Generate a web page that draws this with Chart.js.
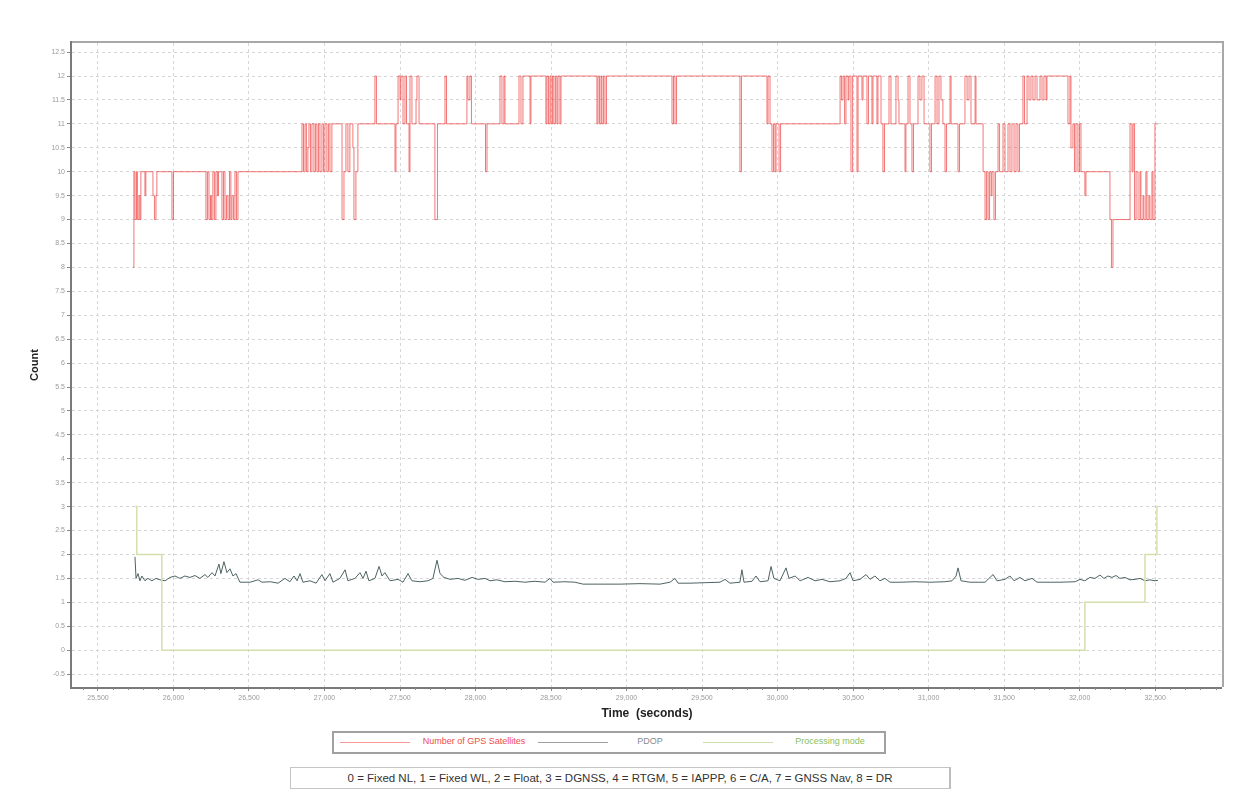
<!DOCTYPE html>
<html>
<head>
<meta charset="utf-8">
<title>GPS Satellites, PDOP and Processing Mode</title>
<script src="https://cdn.jsdelivr.net/npm/chart.js@4.4.1/dist/chart.umd.min.js"></script>
<style>
  html, body { margin: 0; padding: 0; background: #ffffff; }
  #wrap { position: relative; width: 1255px; height: 791px; font-family: "Liberation Sans", Arial, sans-serif; }
  #chart { position: absolute; left: 0; top: 0; }
  #legend { position: absolute; left: 332px; top: 731px; width: 550px; height: 19px; border: 2px solid #a0a0a0; background: #fff; }
  #legend .sw { position: absolute; top: 9px; width: 70px; height: 0; border-top: 1.5px solid; }
  #legend .lb { position: absolute; top: 3px; font-size: 9px; transform: translateX(-50%); white-space: nowrap; }
  #note { position: absolute; left: 290px; top: 767px; width: 658px; height: 20px; border: 1px solid #c4c4c4; border-right: 2px solid #bdbdbd;
          font-size: 11.5px; color: #333; line-height: 20px; text-align: center; white-space: nowrap; background: #fff; }
</style>
</head>
<body>
<div id="wrap">
  <canvas id="chart" width="1255" height="791"></canvas>
  <div id="legend"></div>
  <div id="note"></div>
</div>
<script>
// Number of GPS satellites: [time (s), count] step changes
const satTime = [
  25732, 25738, 25745, 25755, 25761, 25771, 25778, 25784, 25811, 25817,
  25864, 25874, 25884, 25890, 25990, 26000, 26215, 26225, 26235, 26245,
  26251, 26261, 26271, 26281, 26291, 26298, 26321, 26331, 26341, 26351,
  26361, 26371, 26380, 26387, 26397, 26407, 26417, 26427,
  26851, 26861, 26871, 26880, 26890, 26897, 26907, 26917, 26930, 26940,
  26950, 26960, 26970, 26983, 26993, 27003, 27016, 27026, 27036, 27049,
  27116, 27129, 27142, 27155, 27168, 27188, 27195, 27208, 27221,
  27334, 27344, 27467, 27473, 27487, 27500, 27506, 27520, 27533, 27543,
  27560, 27566, 27579, 27606, 27612, 27626, 27731, 27748, 27798, 27808,
  27943, 27950, 27963, 27973, 28066, 28076, 28162, 28175, 28188, 28195,
  28288, 28301, 28314,
  28361, 28367, 28466, 28473, 28483, 28493, 28500, 28510, 28519, 28529,
  28539, 28546, 28559, 28566, 28804, 28811, 28821, 28831, 28837, 28847,
  28857, 28867, 29301, 29311, 29321, 29331, 29751, 29761,
  29930, 29937, 29950, 29963, 29973, 29983, 29990, 30010, 30020,
  30414, 30424, 30434, 30444, 30453, 30467, 30473, 30486, 30497, 30526,
  30533, 30559, 30566, 30592, 30602, 30625, 30632, 30658, 30665, 30685,
  30698, 30708, 30738, 30751, 30784, 30798, 30804, 30844, 30850, 30864,
  30877, 30890, 30900, 30930, 30943, 30956, 30970, 31009, 31019, 31043,
  31056, 31069, 31082, 31095, 31109, 31119, 31142, 31149, 31195, 31205,
  31241, 31255, 31268, 31281, 31308, 31314, 31361, 31374, 31384, 31394,
  31404, 31414, 31420, 31433, 31443, 31460, 31470, 31493, 31506, 31526,
  31539, 31552, 31566, 31579, 31592, 31602, 31625, 31635, 31652, 31665,
  31678, 31691, 31705, 31718, 31738, 31751, 31764, 31778, 31784,
  31923, 31936, 31943, 31956, 31966, 31976, 31989, 31999, 32009, 32035, 32042,
  32201, 32211, 32221, 32334, 32347, 32354, 32364, 32374, 32387, 32400,
  32406, 32420, 32426, 32439, 32446, 32459, 32466, 32479, 32486, 32499, 32519
];
const satCount = [
  8, 10, 9, 10, 9, 9.5, 9, 10, 9.5, 10,
  9.5, 9, 9.5, 10, 9, 10, 9, 10, 9, 9.5,
  9, 10, 9, 10, 9.5, 10, 9, 10, 9, 9.5,
  9, 10, 9, 9.5, 9, 10, 9, 10,
  11, 10, 11, 10, 10.5, 11, 10, 11, 10, 11,
  10, 11, 10, 11, 10, 11, 10, 11, 10, 11,
  9, 10, 11, 10, 11, 10.5, 9, 10, 11,
  12, 11, 10, 11, 12, 11.5, 12, 11, 12, 11,
  10, 12, 11, 11.5, 12, 11, 9, 11, 12, 11,
  12, 11.5, 12, 11, 10, 11, 12, 11, 12, 11,
  12, 11, 12,
  11, 12, 11, 12, 11, 12, 11, 12, 11, 12,
  11, 12, 11, 12, 11, 12, 11, 12, 11, 12,
  11, 12, 11, 12, 11, 12, 10, 12,
  11, 12, 11, 10, 11, 10, 11, 10, 11,
  12, 11.5, 12, 11, 12, 11.5, 12, 10, 12, 10,
  12, 11.5, 12, 11, 12, 11, 12, 11, 12, 11,
  10, 11, 12, 11, 12, 11.5, 11, 10, 11, 12,
  11, 10, 11, 12, 11.5, 12, 11, 10, 11, 12,
  11, 12, 11.5, 11, 10, 11, 12, 11, 10, 11,
  12, 11.5, 12, 11, 12, 11, 10, 9, 10, 9,
  10, 9.5, 10, 9, 10, 11, 10, 11, 10, 11,
  10, 11, 10, 11, 10, 11, 12, 11, 12, 11.5,
  12, 11.5, 12, 11.5, 12, 11.5, 12, 11.5, 12,
  11, 12, 10.5, 11, 10, 11, 10, 11, 10, 9.5, 10,
  9, 8, 9, 11, 10, 11, 9, 10, 9, 10,
  9, 9.5, 9, 10, 9, 9.5, 9, 10, 9, 11, 11
];

// PDOP samples: [time (s), value]
const pdopTime = [
  25745, 25752, 25765, 25778, 25791, 25811, 25831, 25857, 25884, 25911,
  25944, 25977, 26010, 26043, 26076, 26109, 26142, 26175, 26209, 26228,
  26255, 26275, 26301, 26314, 26334, 26354, 26374, 26394, 26414, 26440,
  26507, 26560, 26586, 26640, 26692, 26738, 26771, 26798, 26818, 26838,
  26857, 26904, 26944, 26983, 27003, 27036, 27056, 27102, 27136, 27155,
  27202, 27235, 27255, 27275, 27294, 27334, 27361, 27381, 27400, 27434,
  27487, 27520, 27553, 27579, 27632, 27685, 27718, 27745, 27765, 27791,
  27831, 27884, 27930, 27977, 28016, 28063, 28096, 28142, 28195, 28261,
  28327, 28394, 28460, 28493, 28513, 28592, 28658, 28712, 28824, 28957,
  29089, 29222, 29288, 29321, 29341, 29420, 29519, 29619, 29652, 29685,
  29751, 29764, 29778, 29831, 29857, 29884, 29937, 29957, 29976, 30016,
  30056, 30076, 30116, 30149, 30202, 30248, 30294, 30347, 30414, 30453,
  30480, 30500, 30546, 30586, 30612, 30645, 30678, 30711, 30745, 30811,
  30910, 31009, 31109, 31155, 31182, 31195, 31215, 31274, 31374, 31407,
  31427, 31453, 31506, 31539, 31566, 31605, 31638, 31685, 31718, 31771,
  31870, 31970, 32003, 32035, 32068, 32102, 32135, 32161, 32188, 32214,
  32241, 32267, 32300, 32334, 32367, 32400, 32433, 32466, 32499, 32519
];
const pdopValue = [
  1.95, 1.5, 1.6, 1.45, 1.55, 1.45, 1.5, 1.45, 1.5, 1.47,
  1.45, 1.52, 1.55, 1.5, 1.55, 1.52, 1.56, 1.5, 1.58, 1.52,
  1.62, 1.55, 1.8, 1.6, 1.85, 1.62, 1.7, 1.55, 1.6, 1.42,
  1.42, 1.47, 1.42, 1.43, 1.4, 1.5, 1.43, 1.55, 1.45, 1.6,
  1.42, 1.45, 1.4, 1.58, 1.45, 1.6, 1.42, 1.5, 1.68, 1.45,
  1.5, 1.62, 1.5, 1.65, 1.45, 1.5, 1.75, 1.55, 1.62, 1.45,
  1.48, 1.42, 1.6, 1.45, 1.43, 1.45, 1.5, 1.88, 1.6, 1.52,
  1.48, 1.5, 1.46, 1.52, 1.48, 1.5, 1.45, 1.47, 1.43, 1.44,
  1.42, 1.44, 1.42, 1.5, 1.42, 1.43, 1.42, 1.38, 1.38, 1.38,
  1.39, 1.38, 1.42, 1.5, 1.4, 1.4, 1.41, 1.42, 1.48, 1.4,
  1.42, 1.68, 1.42, 1.44, 1.55, 1.43, 1.45, 1.75, 1.5, 1.45,
  1.72, 1.5, 1.55, 1.45, 1.52, 1.45, 1.48, 1.43, 1.45, 1.5,
  1.62, 1.45, 1.48, 1.58, 1.48, 1.55, 1.45, 1.5, 1.42, 1.42,
  1.43, 1.42, 1.43, 1.45, 1.55, 1.72, 1.45, 1.42, 1.42, 1.52,
  1.58, 1.45, 1.48, 1.55, 1.45, 1.52, 1.45, 1.5, 1.42, 1.42,
  1.42, 1.43, 1.48, 1.45, 1.52, 1.5, 1.57, 1.5, 1.55, 1.52,
  1.56, 1.5, 1.52, 1.47, 1.48, 1.5, 1.45, 1.47, 1.45, 1.46
];

// Processing mode: [time (s), mode code] step changes
const modeTime  = [25747, 25757, 25923, 32035, 32433, 32512, 32519];
const modeValue = [3, 2, 0, 1, 2, 3, 3];

// Axis ticks
const timeTicks  = [25500, 26000, 26500, 27000, 27500, 28000, 28500, 29000, 29500,
                    30000, 30500, 31000, 31500, 32000, 32500];
const countTicks = [-0.5, 0, 0.5, 1, 1.5, 2, 2.5, 3, 3.5, 4, 4.5, 5, 5.5, 6, 6.5,
                    7, 7.5, 8, 8.5, 9, 9.5, 10, 10.5, 11, 11.5, 12, 12.5];
const timeRange  = [25328, 32943];
const countRange = [-0.77, 12.69];

const seriesNames  = ['Number of GPS Satellites', 'PDOP', 'Processing mode'];
const seriesColors = ['rgba(238, 60, 60, 0.7)', '#4d6262', '#d3e0ad'];
const labelColors  = ['#ee4c4c', '#8a8a8a', '#8cbf5a'];
const modeNote = '0 = Fixed NL, 1 = Fixed WL, 2 = Float, 3 = DGNSS, 4 = RTGM, 5 = IAPPP, 6 = C/A, 7 = GNSS Nav, 8 = DR';

const pairs = (xs, ys) => xs.map((x, i) => ({ x: x, y: ys[i] }));

// Frame around the plot area plus small minor ticks on the time axis
const framePlugin = {
  id: 'frame',
  afterDraw(chart) {
    const { ctx, chartArea: a, scales } = chart;
    ctx.save();
    ctx.setLineDash([]);
    ctx.strokeStyle = '#a8a8a8';
    ctx.lineWidth = 2;
    ctx.beginPath();
    ctx.moveTo(a.left, a.top - 1);
    ctx.lineTo(a.right + 1, a.top - 1);
    ctx.lineTo(a.right + 1, a.bottom);
    ctx.stroke();
    ctx.strokeStyle = '#7a7a7a';
    ctx.beginPath();
    ctx.moveTo(a.left - 1, a.top - 2);
    ctx.lineTo(a.left - 1, a.bottom + 1);
    ctx.lineTo(a.right, a.bottom + 1);
    ctx.stroke();
    const xs = scales.x;
    ctx.strokeStyle = '#8a8a8a';
    ctx.lineWidth = 1;
    for (let v = 25400; v <= 32900; v += 100) {
      if (v % 500 === 0) continue;
      const px = Math.round(xs.getPixelForValue(v)) + 0.5;
      ctx.beginPath();
      ctx.moveTo(px, a.bottom + 1);
      ctx.lineTo(px, a.bottom + 3);
      ctx.stroke();
    }
    ctx.restore();
  }
};

new Chart(document.getElementById('chart'), {
  type: 'line',
  data: {
    datasets: [
      { label: seriesNames[2], data: pairs(modeTime, modeValue), stepped: 'before',
        borderColor: seriesColors[2], borderWidth: 1.5, pointRadius: 0, fill: false },
      { label: seriesNames[1], data: pairs(pdopTime, pdopValue),
        borderColor: seriesColors[1], borderWidth: 1, pointRadius: 0, fill: false, tension: 0 },
      { label: seriesNames[0], data: pairs(satTime, satCount), stepped: 'before',
        borderColor: seriesColors[0], borderWidth: 1, pointRadius: 0, fill: false }
    ]
  },
  options: {
    responsive: false,
    animation: false,
    events: [],
    layout: { padding: { left: 24, right: 33, top: 43, bottom: 64 } },
    plugins: { legend: { display: false }, tooltip: { enabled: false } },
    scales: {
      x: {
        type: 'linear',
        min: timeRange[0], max: timeRange[1],
        afterBuildTicks: s => { s.ticks = timeTicks.map(v => ({ value: v })); },
        afterFit: s => { s.height = 40; },
        border: { display: false, dash: [3, 3] },
        grid: { color: '#d6d6d6', lineWidth: 1, tickColor: '#8a8a8a', tickLength: 4 },
        ticks: {
          autoSkip: false, maxRotation: 0, padding: 3,
          color: '#9a9a9a', font: { size: 7, family: 'Liberation Sans' },
          callback: v => v.toLocaleString('en-US')
        },
        title: { display: true, text: 'Time  (seconds)', color: '#222',
                 font: { size: 12, weight: 'bold', family: 'Liberation Sans' },
                 padding: { top: 2, bottom: 6 } }
      },
      y: {
        type: 'linear',
        min: countRange[0], max: countRange[1],
        afterBuildTicks: s => { s.ticks = countTicks.map(v => ({ value: v })); },
        afterFit: s => { s.width = 48; },
        border: { display: false, dash: [3, 3] },
        grid: { color: '#d6d6d6', lineWidth: 1, tickColor: '#8a8a8a', tickLength: 5 },
        ticks: {
          autoSkip: false, padding: 2,
          color: '#9a9a9a', font: { size: 7, family: 'Liberation Sans' },
          callback: v => String(v)
        },
        title: { display: true, text: 'Count', color: '#222',
                 font: { size: 11, weight: 'bold', family: 'Liberation Sans' },
                 padding: { top: 4, bottom: 4 } }
      }
    }
  },
  plugins: [framePlugin]
});

// Legend and mode-code note below the chart
const legend = document.getElementById('legend');
const swatchLeft = [6, 204, 369];
const labelCenter = [140, 316, 496];
[0, 1, 2].forEach(i => {
  const sw = document.createElement('div');
  sw.className = 'sw';
  sw.style.left = swatchLeft[i] + 'px';
  sw.style.borderTopColor = i === 0 ? '#f59a9a' : (i === 1 ? '#a0a0a0' : '#cfdcac');
  legend.appendChild(sw);
  const lb = document.createElement('div');
  lb.className = 'lb';
  lb.style.left = labelCenter[i] + 'px';
  lb.style.color = labelColors[i];
  lb.textContent = seriesNames[i];
  legend.appendChild(lb);
});
document.getElementById('note').textContent = modeNote;
</script>
</body>
</html>
